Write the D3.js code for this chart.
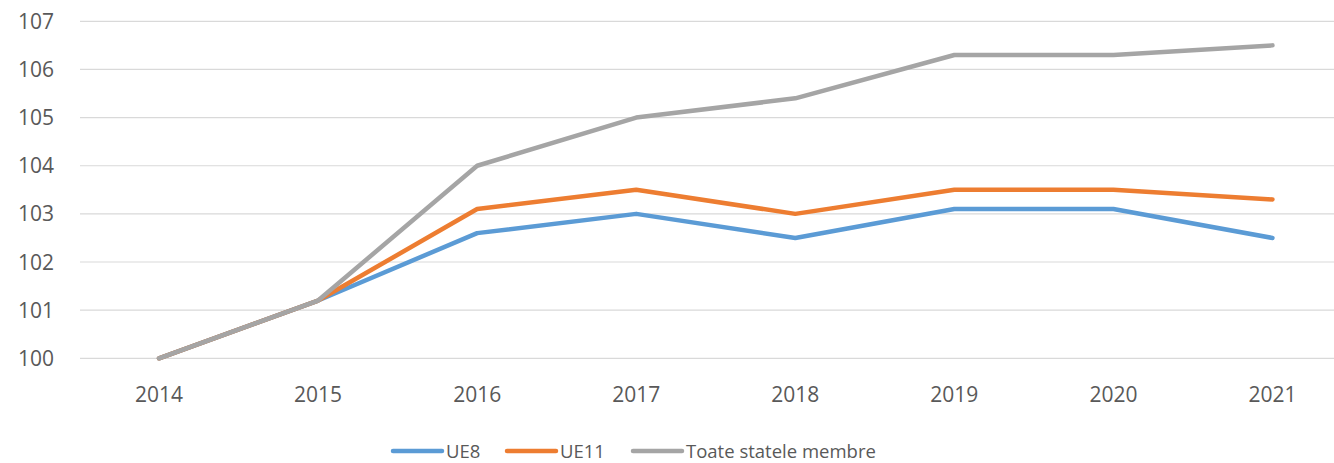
<!DOCTYPE html>
<html>
<head>
<meta charset="utf-8">
<script src="https://cdn.jsdelivr.net/npm/d3@7"></script>
<style>
  body { margin: 0; background: #fff; }
  text { font-family: "Open Sans", "Liberation Sans", sans-serif; fill: #595959; }
</style>
</head>
<body>
<svg id="chart" width="1334" height="463"></svg>
<script>
// years on the x axis
const years = ["2014", "2015", "2016", "2017", "2018", "2019", "2020", "2021"];
// index values (2014 = 100)
const ue8 = [100, 101.2, 102.6, 103.0, 102.5, 103.1, 103.1, 102.5];
const ue11 = [100, 101.2, 103.1, 103.5, 103.0, 103.5, 103.5, 103.3];
const toate = [100, 101.2, 104.0, 105.0, 105.4, 106.3, 106.3, 106.5];
const yTicks = [100, 101, 102, 103, 104, 105, 106, 107];

const series = [
    {name: "UE8", values: ue8, color: "#5B9BD5"},
    {name: "UE11", values: ue11, color: "#ED7D31"},
    {name: "Toate statele membre", values: toate, color: "#A5A5A5"}
];

const svg = d3.select("#chart");

const x = d3.scaleBand()
    .domain(years)
    .range([79.5, 1352]);

const y = d3.scaleLinear()
    .domain([100, 107])
    .range([358.3, 21.3]);

// gridlines
svg.append("g")
    .selectAll("line")
    .data(yTicks)
    .enter().append("line")
    .attr("x1", 80)
    .attr("x2", 1334)
    .attr("y1", d => y(d))
    .attr("y2", d => y(d))
    .attr("stroke", "#D9D9D9")
    .attr("stroke-width", 1.2);

// y tick labels
svg.append("g")
    .selectAll("text")
    .data(yTicks)
    .enter().append("text")
    .attr("x", 54)
    .attr("y", d => y(d))
    .attr("dy", "0.36em")
    .attr("text-anchor", "end")
    .style("font-size", "21px")
    .text(d => d);

// x tick labels
svg.append("g")
    .selectAll("text")
    .data(years)
    .enter().append("text")
    .attr("x", d => x(d) + x.bandwidth() / 2)
    .attr("y", 394)
    .attr("dy", "0.36em")
    .attr("text-anchor", "middle")
    .style("font-size", "21px")
    .text(d => d);

const line = d3.line()
    .x((d, i) => x(years[i]) + x.bandwidth() / 2)
    .y(d => y(d));

svg.append("g")
    .selectAll("path")
    .data(series)
    .enter().append("path")
    .attr("d", d => line(d.values))
    .attr("fill", "none")
    .attr("stroke", d => d.color)
    .attr("stroke-width", 4.5)
    .attr("stroke-linejoin", "round")
    .attr("stroke-linecap", "round");

// legend
const legendX = [393, 507, 633];
const legend = svg.append("g")
    .selectAll("g")
    .data(series)
    .enter().append("g")
    .attr("transform", (d, i) => "translate(" + legendX[i] + ",451)");

legend.append("line")
    .attr("x1", 0)
    .attr("x2", 49)
    .attr("stroke", d => d.color)
    .attr("stroke-width", 4.5)
    .attr("stroke-linecap", "round");

legend.append("text")
    .attr("x", 53)
    .attr("dy", "0.36em")
    .style("font-size", "18.5px")
    .text(d => d.name);
</script>
</body>
</html>
